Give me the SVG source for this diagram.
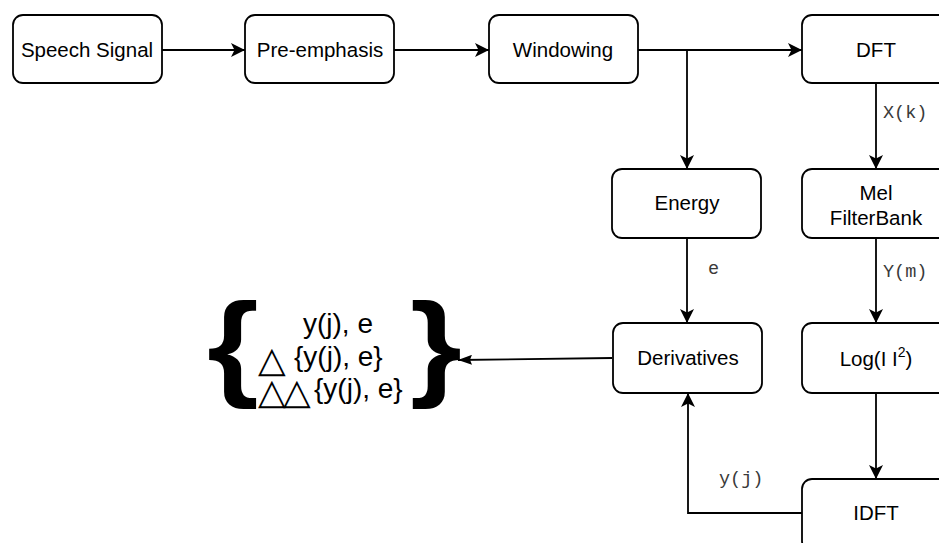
<svg xmlns="http://www.w3.org/2000/svg" width="939" height="543" viewBox="0 0 939 543">
<style>
.box{fill:#fff;stroke:#000;stroke-width:1.8}
.lbl{font-family:"Liberation Sans",Arial,sans-serif;font-size:20.5px;fill:#000;text-anchor:middle}
.mono{font-family:"Liberation Mono","Courier New",monospace;font-size:18.5px;fill:#3a3a3a}
.edge{fill:none;stroke:#000;stroke-width:1.8}
.big{font-family:"Liberation Sans",Arial,sans-serif;font-size:28px;fill:#000}
.tri{font-family:"DejaVu Sans",sans-serif;font-size:36px;fill:#000}
.brace{font-family:"Liberation Sans",Arial,sans-serif;font-size:113px;font-weight:bold;fill:#000}
</style>
<defs>
<marker id="arr" viewBox="0 0 14 14" refX="14" refY="7" markerWidth="14" markerHeight="14" markerUnits="userSpaceOnUse" orient="auto">
<path d="M0,0 L14,7 L0,14 L3.5,7 z" fill="#000"/>
</marker>
<marker id="arr2" viewBox="0 0 14 10" refX="14" refY="5" markerWidth="14" markerHeight="10" markerUnits="userSpaceOnUse" orient="auto">
<path d="M0,0 L14,5 L0,10 L2,5 z" fill="#000"/>
</marker>
</defs>
<g id="connectors">
<path class="edge" d="M162,50 L245,50" marker-end="url(#arr)"/>
<path class="edge" d="M394,50 L489,50" marker-end="url(#arr)"/>
<path class="edge" d="M638,50 L802,50" marker-end="url(#arr)"/>
<path class="edge" d="M687,50 L687,169" marker-end="url(#arr)"/>
<path class="edge" d="M876,83 L876,169" marker-end="url(#arr)"/>
<path class="edge" d="M687,238 L687,323" marker-end="url(#arr)"/>
<path class="edge" d="M876,238 L876,323" marker-end="url(#arr)"/>
<path class="edge" d="M876,393 L876,479" marker-end="url(#arr)"/>
<path class="edge" d="M802,513 L688,513 L688,393" marker-end="url(#arr)"/>
<path class="edge" d="M612,358 L458,360" marker-end="url(#arr2)" stroke-width="1.5"/>
<text class="mono" x="883" y="118">X(k)</text>
<text class="mono" x="708" y="274">e</text>
<text class="mono" x="883" y="277">Y(m)</text>
<text class="mono" x="719" y="484">y(j)</text>
</g>
<g id="speech"><rect class="box" x="13" y="15" width="149" height="68" rx="10"/><text class="lbl" x="87" y="57">Speech Signal</text></g>
<g id="preemphasis"><rect class="box" x="245" y="15" width="149" height="68" rx="10"/><text class="lbl" x="320" y="57">Pre-emphasis</text></g>
<g id="windowing"><rect class="box" x="489" y="15" width="149" height="68" rx="10"/><text class="lbl" x="563" y="57">Windowing</text></g>
<g id="dft"><rect class="box" x="802" y="15" width="148" height="68" rx="10"/><text class="lbl" x="876" y="57">DFT</text></g>
<g id="energy"><rect class="box" x="612" y="169" width="149" height="69" rx="10"/><text class="lbl" x="687" y="210">Energy</text></g>
<g id="mel"><rect class="box" x="802" y="169" width="148" height="69" rx="10"/><text class="lbl" x="876" y="200">Mel</text><text class="lbl" x="876" y="225">FilterBank</text></g>
<g id="derivatives"><rect class="box" x="613" y="323" width="149" height="70" rx="10"/><text class="lbl" x="688" y="365">Derivatives</text></g>
<g id="log"><rect class="box" x="802" y="323" width="148" height="70" rx="10"/><text class="lbl" x="876" y="366">Log(I I<tspan font-size="14" dy="-9">2</tspan><tspan dy="9">)</tspan></text></g>
<g id="idft"><rect class="box" x="802" y="479" width="148" height="72" rx="10"/><text class="lbl" x="876" y="520">IDFT</text></g>
<g id="result">
<text class="brace" transform="translate(207,385) scale(1.18,1.03)" x="0" y="0">{</text>
<text class="brace" transform="translate(410,385) scale(1.18,1.03)" x="0" y="0">}</text>
<text class="big" x="338" y="333" text-anchor="middle">y(j), e</text>
<text class="big" x="294" y="366">{y(j), e}</text>
<text class="big" x="314" y="398">{y(j), e}</text>
<text class="tri"><tspan x="258" y="372">△</tspan><tspan x="258" y="404">△</tspan><tspan x="283" y="404">△</tspan></text>
</g>
</svg>
